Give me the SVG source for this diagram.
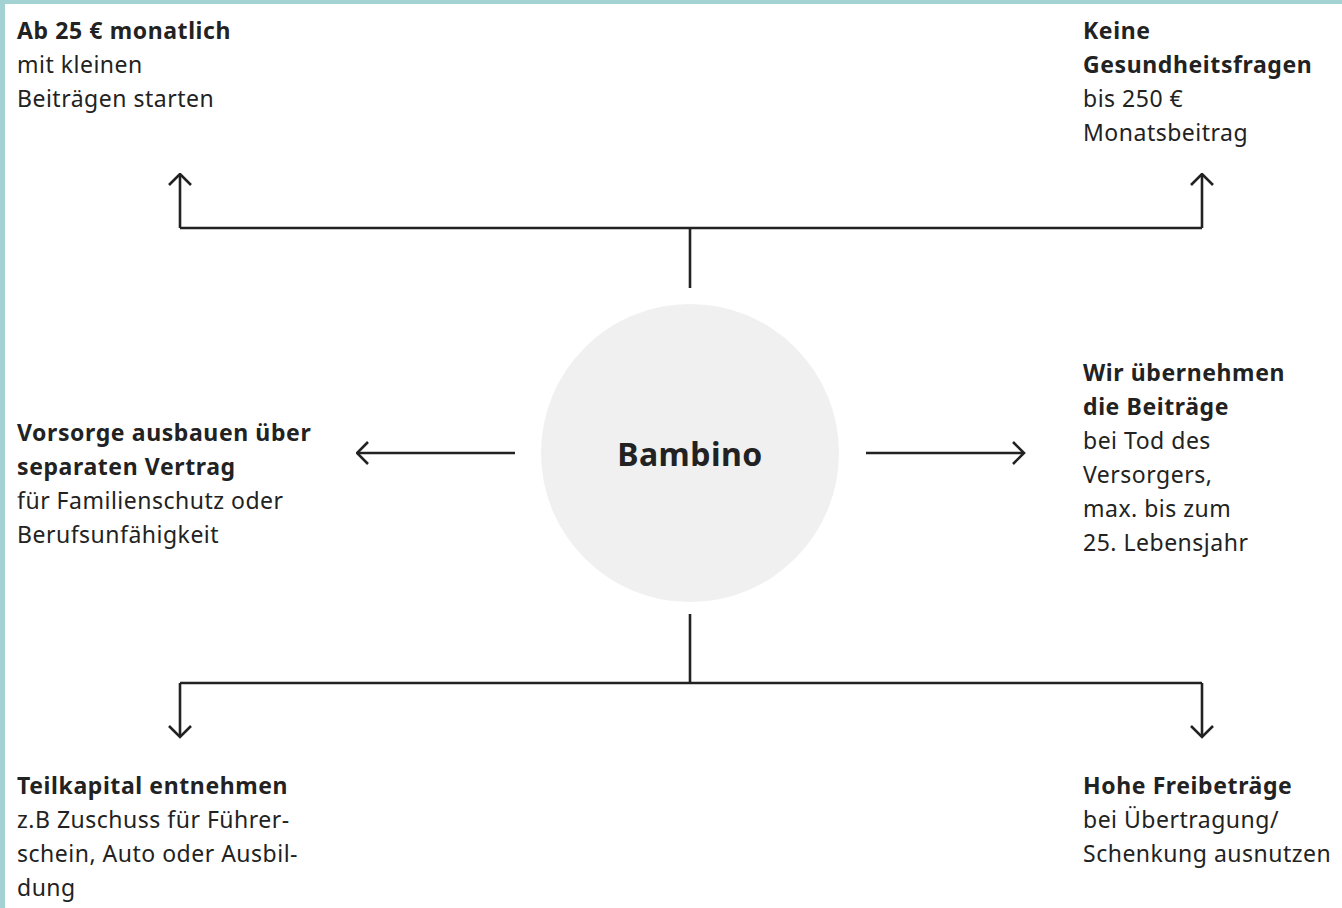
<svg xmlns="http://www.w3.org/2000/svg" width="1342" height="908" viewBox="0 0 1342 908">
<defs>
<marker id="arr" viewBox="0 0 14 26" refX="12.5" refY="13" markerWidth="14" markerHeight="26" markerUnits="userSpaceOnUse" orient="auto">
<path d="M1.5,2 L12.5,13 L1.5,24" fill="none" stroke="#222" stroke-width="2.6" stroke-linejoin="miter"/>
</marker>
<style>
text{font-family:"Noto Sans","Liberation Sans",sans-serif;font-size:23px;fill:#222;letter-spacing:0.5px}
.b{font-weight:bold;letter-spacing:0.6px}
.c{stroke:#222;stroke-width:2.6;fill:none}
</style>
</defs>
<rect x="0" y="0" width="1342" height="908" fill="#a3d2d3"/>
<rect x="5" y="4" width="1337" height="904" fill="#ffffff"/>
<g id="connectors">
<path class="c" d="M690,288 V228"/>
<path class="c" d="M180,228 H1202"/>
<path class="c" d="M180,228 V174" marker-end="url(#arr)"/>
<path class="c" d="M1202,228 V174" marker-end="url(#arr)"/>
<path class="c" d="M690,614 V683"/>
<path class="c" d="M180,683 H1202"/>
<path class="c" d="M180,683 V737" marker-end="url(#arr)"/>
<path class="c" d="M1202,683 V737" marker-end="url(#arr)"/>
<path class="c" d="M515,453 H357" marker-end="url(#arr)"/>
<path class="c" d="M866,453 H1024" marker-end="url(#arr)"/>
</g>
<g id="center">
<circle cx="690" cy="453" r="149" fill="#f0f0f0"/>
<text x="690" y="466" text-anchor="middle" class="b" style="font-size:32px;letter-spacing:0.5px">Bambino</text>
</g>
<g id="n-top-left">
<text x="17" y="39" class="b">Ab 25 € monatlich</text>
<text x="17" y="73">mit kleinen</text>
<text x="17" y="107">Beiträgen starten</text>
</g>
<g id="n-top-right">
<text x="1083" y="39" class="b">Keine</text>
<text x="1083" y="73" class="b">Gesundheitsfragen</text>
<text x="1083" y="107">bis 250 €</text>
<text x="1083" y="141">Monatsbeitrag</text>
</g>
<g id="n-mid-left">
<text x="17" y="441" class="b">Vorsorge ausbauen über</text>
<text x="17" y="475" class="b">separaten Vertrag</text>
<text x="17" y="509">für Familienschutz oder</text>
<text x="17" y="543">Berufsunfähigkeit</text>
</g>
<g id="n-mid-right">
<text x="1083" y="381" class="b">Wir übernehmen</text>
<text x="1083" y="415" class="b">die Beiträge</text>
<text x="1083" y="449">bei Tod des</text>
<text x="1083" y="483">Versorgers,</text>
<text x="1083" y="517">max. bis zum</text>
<text x="1083" y="551">25. Lebensjahr</text>
</g>
<g id="n-bottom-left">
<text x="17" y="794" class="b">Teilkapital entnehmen</text>
<text x="17" y="828">z.B Zuschuss für Führer-</text>
<text x="17" y="862">schein, Auto oder Ausbil-</text>
<text x="17" y="896">dung</text>
</g>
<g id="n-bottom-right">
<text x="1083" y="794" class="b">Hohe Freibeträge</text>
<text x="1083" y="828">bei Übertragung/</text>
<text x="1083" y="862">Schenkung ausnutzen</text>
</g>
</svg>
